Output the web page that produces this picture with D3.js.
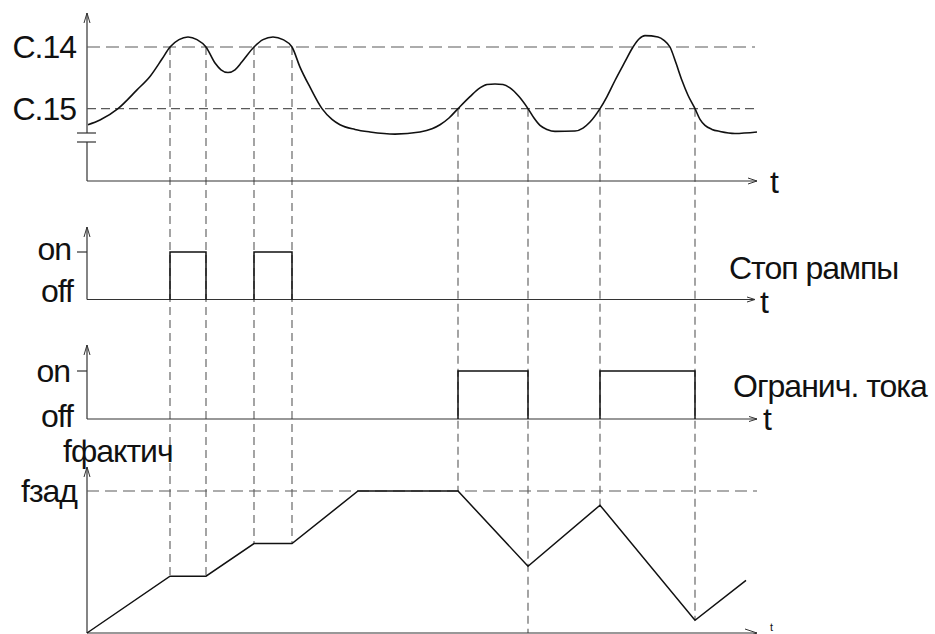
<!DOCTYPE html>
<html>
<head>
<meta charset="utf-8">
<script src="https://cdn.jsdelivr.net/npm/d3@7"></script>
<style>
  body { margin: 0; background: #fff; }
  text { font-family: "Liberation Sans", Arial, sans-serif; fill: #111; letter-spacing: -1px; }
</style>
</head>
<body>
<div class="stage"></div>
<script>
// timing diagram: C.14 / C.15 thresholds, ramp stop, current limit, f actual
var width = 935;
var height = 634;

// DATA (time in arbitrary units 0..670)
var timeEnd = 670;
var thresholdLabels = ['C.14', 'C.15'];
var thresholdValues = [100, 54];

// measured signal
var signalT = [1, 13, 31, 50, 63, 75, 83, 92, 101, 110, 119, 128, 134, 141, 148, 155, 167, 176, 186, 196,
               205, 213, 223, 235, 245, 253, 268, 283, 308, 333, 345, 353, 362, 371, 383, 393, 400, 408, 416, 423,
               432, 441, 447, 453, 460, 468, 488, 496, 503, 513, 520, 528, 538, 546, 552, 558, 571, 577, 583, 589,
               595, 601, 608, 613, 618, 625, 633, 648, 670];
var signalV = [42, 45.5, 54, 68, 78, 91, 100, 105.5, 107.5, 105.5, 100, 88, 83, 81, 83, 89, 100, 105.5, 107.5, 105.5,
               100, 85, 70, 54, 46, 42, 38.5, 36.6, 35, 36.6, 39, 42, 47, 54, 63, 69.5, 72, 72.4, 72, 69.5,
               63, 54, 47, 41.5, 38.5, 37, 37.3, 39.5, 44, 54, 63, 75, 89, 100, 106, 108.5, 107.5, 105, 100, 88,
               75, 64, 54, 46, 41.5, 38.5, 37, 35.5, 36.6];

// on/off states
var stateLabels = ['on', 'off'];
var rampStopPulses = [[83, 119], [167, 205]];
var currentLimitPulses = [[371, 441], [513, 608]];

// actual frequency (fзад = 100)
var freqT = [0, 83, 119, 167, 205, 271, 371, 441, 513, 608, 659];
var freqV = [0, 40, 40, 63, 63, 100, 100, 47, 90, 9, 37];

// event guides: crossing time, threshold it starts at, frequency value it ends at
var eventT = [83, 119, 167, 205, 371, 441, 513, 608];
var eventTop = [100, 100, 100, 100, 54, 54, 54, 54];
var eventBottom = [40, 40, 63, 63, 100, 0, 90, 9];

// CONTAINER creation
var svg = d3.select('.stage')
            .append('svg')
            .attr('width', width)
            .attr('height', height);

var x = d3.scaleLinear().domain([0, timeEnd]).range([87, 757]);
var ySig = d3.scaleLinear().domain([0, 100]).range([181, 47]);
var yStop = d3.scaleLinear().domain([0, 1]).range([299.5, 252]);
var yLim = d3.scaleLinear().domain([0, 1]).range([419, 371]);
var yFreq = d3.scaleLinear().domain([0, 100]).range([633, 491]);

var axisColor = '#333';
var dashColor = '#5a5a5a';

// helpers for the little open arrowheads
var upArrow = function(px, py) {
  svg.append('path')
    .attr('d', 'M' + (px - 3) + ',' + (py + 10) + 'L' + px + ',' + py + 'L' + (px + 3) + ',' + (py + 10))
    .attr('fill', 'none').attr('stroke', axisColor).attr('stroke-width', 1);
};
var rightArrow = function(px, py, len, half) {
  svg.append('path')
    .attr('d', 'M' + (px - len) + ',' + (py - half) + 'L' + px + ',' + py + 'L' + (px - len) + ',' + (py + half))
    .attr('fill', 'none').attr('stroke', axisColor).attr('stroke-width', 1);
};
var line = function(x1, y1, x2, y2, color, w, dash) {
  svg.append('line')
    .attr('x1', x1).attr('y1', y1).attr('x2', x2).attr('y2', y2)
    .attr('stroke', color).attr('stroke-width', w)
    .attr('stroke-dasharray', dash || null);
};
var label = function(tx, ty, txt, anchor, size) {
  svg.append('text')
    .attr('x', tx).attr('y', ty)
    .attr('text-anchor', anchor)
    .style('font-size', (size || 32) + 'px')
    .text(txt);
};

// EVENT guides (drawn first, under everything)
svg.selectAll('line.guide')
  .data(eventT)
  .enter()
  .append('line')
  .attr('class', 'guide')
  .attr('x1', function(d) { return x(d); })
  .attr('x2', function(d) { return x(d); })
  .attr('y1', function(d, i) { return ySig(eventTop[i]); })
  .attr('y2', function(d, i) { return yFreq(eventBottom[i]); })
  .attr('stroke', dashColor)
  .attr('stroke-width', 1.1)
  .attr('stroke-dasharray', '8,5');

// PANEL 1: signal with thresholds (axis broken near the bottom)
line(x(0), 13, x(0), 133, axisColor, 1.2);
line(x(0), 142, x(0), ySig(0), axisColor, 1.2);
line(x(0) - 10, 133, x(0) + 9, 133, axisColor, 1.2);
line(x(0) - 10, 142, x(0) + 9, 142, axisColor, 1.2);
upArrow(x(0), 13);
line(x(0), ySig(0), x(timeEnd), ySig(0), axisColor, 1.2);
rightArrow(x(timeEnd), ySig(0), 9, 3);
label(770, 193, 't', 'start');

svg.selectAll('line.thr')
  .data(thresholdValues)
  .enter()
  .append('line')
  .attr('class', 'thr')
  .attr('x1', x(0))
  .attr('x2', x(timeEnd) - 2)
  .attr('y1', function(d) { return ySig(d); })
  .attr('y2', function(d) { return ySig(d); })
  .attr('stroke', dashColor)
  .attr('stroke-width', 1.1)
  .attr('stroke-dasharray', function(d, i) { return i === 0 ? '13,6' : '9,5'; });

svg.selectAll('text.thr')
  .data(thresholdLabels)
  .enter()
  .append('text')
  .attr('class', 'thr')
  .attr('x', 76)
  .attr('y', function(d, i) { return ySig(thresholdValues[i]) + 11; })
  .attr('text-anchor', 'end')
  .style('font-size', '32px')
  .text(function(d) { return d; });

svg.append('path')
  .datum(signalT.map(function(t, i) { return [t, signalV[i]]; }))
  .attr('d', d3.line()
    .x(function(d) { return x(d[0]); })
    .y(function(d) { return ySig(d[1]); })
    .curve(d3.curveMonotoneX))
  .attr('fill', 'none')
  .attr('stroke', '#111')
  .attr('stroke-width', 1.6);

// PANEL 2 + 3: on/off signals
var pulsePanel = function(scale, pulses, axisTop, axisEnd, tx, ty, name, nx, ny) {
  line(x(0), axisTop, x(0), scale(0), axisColor, 1.2);
  upArrow(x(0), axisTop);
  line(x(0) - 10, scale(1), x(0), scale(1), axisColor, 1.2);
  line(x(0), scale(0), x(axisEnd), scale(0), axisColor, 1.2);
  rightArrow(x(axisEnd), scale(0), 8, 2.5);
  label(tx, ty, 't', 'start');
  label(nx, ny, name, 'start');
  svg.append('g')
    .selectAll('path')
    .data(pulses)
    .enter()
    .append('path')
    .attr('d', function(d) {
      return 'M' + x(d[0]) + ',' + scale(0) + 'V' + scale(1) + 'H' + x(d[1]) + 'V' + scale(0);
    })
    .attr('fill', 'none')
    .attr('stroke', '#111')
    .attr('stroke-width', 1.5);
};

pulsePanel(yStop, rampStopPulses, 227, 668, 760, 313, 'Стоп рампы', 729, 279);
label(71, yStop(1) + 8, stateLabels[0], 'end');
label(73, yStop(0) + 2, stateLabels[1], 'end');

pulsePanel(yLim, currentLimitPulses, 345, 670, 763, 430, 'Огранич. тока', 733, 397);
label(70, yLim(1) + 11, stateLabels[0], 'end');
label(73, yLim(0) + 8, stateLabels[1], 'end');

// PANEL 4: actual frequency
line(x(0), 467, x(0), yFreq(0), axisColor, 1.2);
upArrow(x(0), 467);
line(x(0), yFreq(0), x(timeEnd), yFreq(0), axisColor, 1.2);
rightArrow(x(timeEnd), yFreq(0), 12, 4);
label(770, 631, 't', 'start', 11);

line(x(0), yFreq(100), x(timeEnd), yFreq(100), dashColor, 1.1, '12,6');
label(63, 462, 'fфактич', 'start');
label(21, 502, 'fзад', 'start');

svg.append('path')
  .datum(freqT.map(function(t, i) { return [t, freqV[i]]; }))
  .attr('d', d3.line()
    .x(function(d) { return x(d[0]); })
    .y(function(d) { return yFreq(d[1]); }))
  .attr('fill', 'none')
  .attr('stroke', '#111')
  .attr('stroke-width', 1.5);
</script>
</body>
</html>
